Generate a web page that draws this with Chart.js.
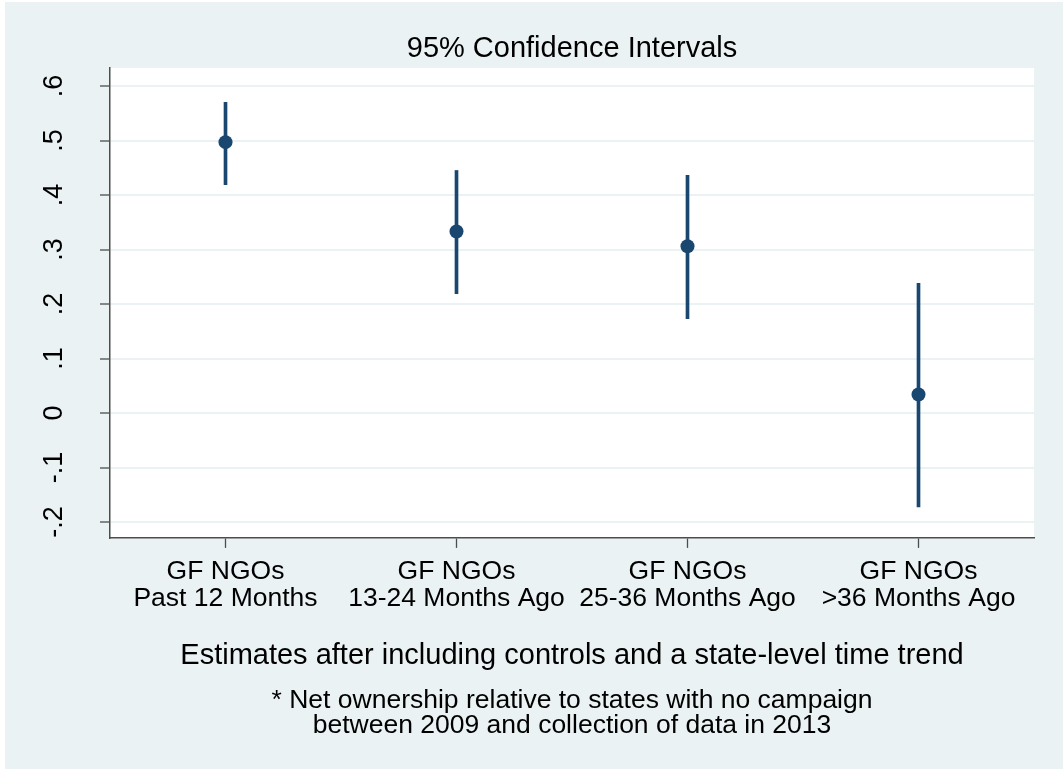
<!DOCTYPE html>
<html>
<head>
<meta charset="utf-8">
<script src="https://cdn.jsdelivr.net/npm/chart.js@4.4.1/dist/chart.umd.min.js"></script>
<style>
    body { margin: 0; background: #ffffff; }
    #box { position: absolute; left: 5px; top: 2px; width: 1058px; height: 767px; background: #eaf2f3; }
</style>
</head>
<body>
<div id="box"><canvas id="grafico"></canvas></div>
<script>
// dados
const categorias = [
    ['GF NGOs', 'Past 12 Months'],
    ['GF NGOs', '13-24 Months Ago'],
    ['GF NGOs', '25-36 Months Ago'],
    ['GF NGOs', '>36 Months Ago']
]
const estimativas = [0.497, 0.333, 0.306, 0.034]
const inferior = [0.419, 0.219, 0.173, -0.172]
const superior = [0.570, 0.445, 0.436, 0.238]
const yMin = -0.229
const yMax = 0.633
const yPasso = 0.1

const intervalos = inferior.map((v, i) => [v, superior[i]])

const fonte = 'Liberation Sans, Arial, sans-serif'
const azul = '#1a476f'
const cinza = '#4d4d4d'

const fundoBranco = {
    id: 'fundoBranco',
    beforeDraw(chart) {
        const a = chart.chartArea
        const c = chart.ctx
        c.save()
        c.fillStyle = '#ffffff'
        c.fillRect(a.left, a.top, a.right - a.left, a.bottom - a.top)
        c.restore()
    }
}

const ctx = document.getElementById('grafico')

let grafico = new Chart(ctx, {
    type: 'bar',
    data: {
        labels: categorias,
        datasets: [{
            type: 'line',
            data: estimativas,
            showLine: false,
            pointRadius: 7,
            pointHoverRadius: 7,
            pointBackgroundColor: azul,
            pointBorderWidth: 0,
            order: 1
        }, {
            data: intervalos,
            backgroundColor: azul,
            barThickness: 3,
            borderWidth: 0,
            order: 2
        }]
    },
    options: {
        responsive: true,
        maintainAspectRatio: false,
        animation: false,
        events: [],
        layout: { padding: { left: 0, right: 29, top: 0, bottom: 0 } },
        plugins: {
            legend: { display: false },
            tooltip: { enabled: false },
            title: {
                display: true,
                text: '95% Confidence Intervals',
                color: '#000000',
                fullSize: false,
                font: { family: fonte, size: 29, weight: 'normal', lineHeight: 1.2 },
                padding: { top: 30, bottom: 1.2 }
            },
            subtitle: {
                display: true,
                position: 'bottom',
                text: ['* Net ownership relative to states with no campaign', 'between 2009 and collection of data in 2013'],
                color: '#000000',
                fullSize: false,
                font: { family: fonte, size: 26.5, weight: 'normal', lineHeight: 0.95 },
                padding: { top: 8, bottom: 30.5 }
            }
        },
        scales: {
            x: {
                offset: true,
                grid: {
                    offset: false,
                    drawOnChartArea: false,
                    drawTicks: true,
                    tickLength: 10,
                    tickColor: cinza,
                    tickWidth: 1.3
                },
                border: { color: cinza, width: 1.5 },
                ticks: {
                    color: '#000000',
                    padding: 10,
                    maxRotation: 0,
                    autoSkip: false,
                    font: { family: fonte, size: 26.5, lineHeight: 1.02 }
                },
                title: {
                    display: true,
                    text: 'Estimates after including controls and a state-level time trend',
                    color: '#000000',
                    font: { family: fonte, size: 29, lineHeight: 1.2 },
                    padding: { top: 17, bottom: 6.4 }
                }
            },
            y: {
                min: yMin,
                max: yMax,
                afterFit(scale) { scale.width = 105 },
                grid: {
                    color: '#eaf2f3',
                    lineWidth: 2,
                    drawTicks: true,
                    tickLength: 10,
                    tickColor: cinza,
                    tickWidth: 1.3
                },
                border: { color: cinza, width: 1.5 },
                ticks: {
                    stepSize: yPasso,
                    includeBounds: false,
                    minRotation: 90,
                    maxRotation: 90,
                    crossAlign: 'center',
                    padding: 29.5,
                    color: '#000000',
                    font: { family: fonte, size: 27 },
                    callback: function (v) {
                        let r = Math.round(v * 10) / 10
                        if (r === 0) return '0'
                        return r.toString().replace('0.', '.')
                    }
                }
            }
        }
    },
    plugins: [fundoBranco]
});
</script>
</body>
</html>
